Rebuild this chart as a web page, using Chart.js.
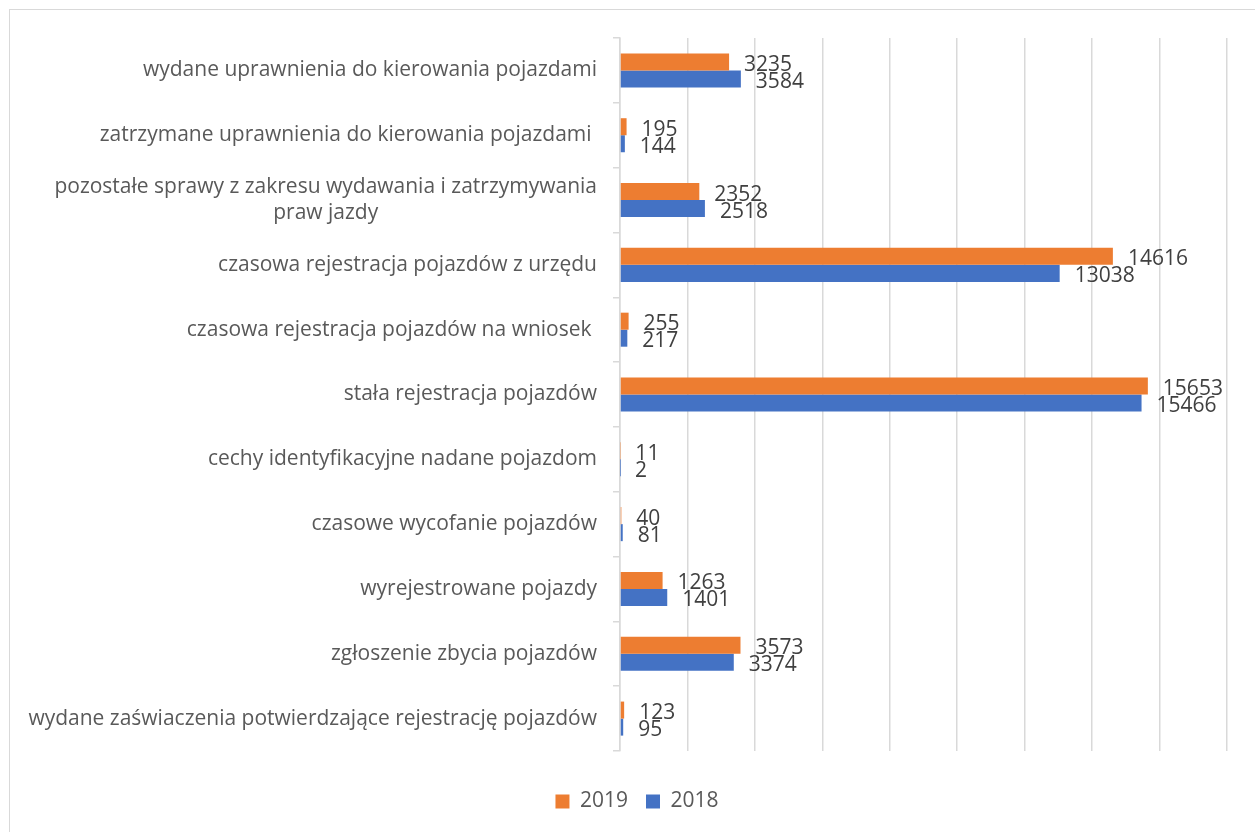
<!DOCTYPE html>
<html>
<head>
<meta charset="utf-8">
<script src="https://cdn.jsdelivr.net/npm/chart.js@4.4.1/dist/chart.umd.min.js"></script>
<style>
  html, body { margin: 0; padding: 0; background: #fff; overflow: hidden; width: 1255px; height: 832px; }
  #frame { position: absolute; left: 9px; top: 9px; width: 1400px; height: 1000px; border: 1.5px solid #d9d9d9; box-sizing: border-box; }
  #wrap { position: absolute; left: 0; top: 0; width: 1255px; height: 832px; }
</style>
</head>
<body>
<div id="frame"></div>
<div id="wrap"><canvas id="c" width="1255" height="832"></canvas></div>
<script>
const categories = [
  ["wydane uprawnienia do kierowania pojazdami"],
  ["zatrzymane uprawnienia do kierowania pojazdami "],
  ["pozostałe sprawy z zakresu wydawania i zatrzymywania", "praw jazdy"],
  ["czasowa rejestracja pojazdów z urzędu"],
  ["czasowa rejestracja pojazdów na wniosek "],
  ["stała rejestracja pojazdów"],
  ["cechy identyfikacyjne nadane pojazdom"],
  ["czasowe wycofanie pojazdów"],
  ["wyrejestrowane pojazdy"],
  ["zgłoszenie zbycia pojazdów"],
  ["wydane zaświaczenia potwierdzające rejestrację pojazdów"]
];
const values2019 = [3235, 195, 2352, 14616, 255, 15653, 11, 40, 1263, 3573, 123];
const values2018 = [3584, 144, 2518, 13038, 217, 15466, 2, 81, 1401, 3374, 95];
const seriesNames = ["2019", "2018"];
const xMin = 0, xMax = 18000, xStep = 2000;

const FONT = "'Open Sans', 'DejaVu Sans', sans-serif";
const FS = 21;

const yLabelsPlugin = {
  id: 'yLabels',
  afterDraw(chart) {
    const ctx = chart.ctx;
    const y = chart.scales.y;
    const rightX = 597;
    ctx.save();
    ctx.font = FS + "px " + FONT;
    ctx.fillStyle = "#595959";
    ctx.textBaseline = "middle";
    const lh = 26;
    categories.forEach((lines, i) => {
      const cy = y.getPixelForTick(i);
      const widths = lines.map(l => ctx.measureText(l.trimEnd()).width + (l.endsWith(" ") ? ctx.measureText(" ").width : 0));
      const maxW = Math.max(...widths);
      const startY = cy - (lines.length - 1) * lh / 2;
      lines.forEach((l, j) => {
        const w = widths[j];
        const x = rightX - maxW + (maxW - w) / 2;
        ctx.textAlign = "left";
        ctx.fillText(l, x, startY + j * lh);
      });
    });
    ctx.restore();
  }
};

const valueLabelsPlugin = {
  id: 'valueLabels',
  afterDatasetsDraw(chart) {
    const ctx = chart.ctx;
    ctx.save();
    ctx.font = FS + "px " + FONT;
    ctx.fillStyle = "#404040";
    ctx.textAlign = "left";
    ctx.textBaseline = "middle";
    chart.data.datasets.forEach((ds, di) => {
      const meta = chart.getDatasetMeta(di);
      meta.data.forEach((el, i) => {
        ctx.fillText(String(ds.data[i]), el.x + 15, el.y + 3);
      });
    });
    ctx.restore();
  }
};

new Chart(document.getElementById('c'), {
  type: 'bar',
  data: {
    labels: categories,
    datasets: [
      { label: seriesNames[0], data: values2019, backgroundColor: '#ED7D31', categoryPercentage: 0.525, barPercentage: 1 },
      { label: seriesNames[1], data: values2018, backgroundColor: '#4472C4', categoryPercentage: 0.525, barPercentage: 1 }
    ]
  },
  options: {
    indexAxis: 'y',
    responsive: false,
    animation: false,
    layout: { padding: { top: 38, right: 28, bottom: 10, left: 47 } },
    plugins: {
      tooltip: { enabled: false },
      legend: {
        position: 'bottom',
        labels: {
          font: { family: FONT, size: FS },
          color: '#595959',
          boxWidth: 14,
          boxHeight: 14,
          padding: 18
        }
      }
    },
    scales: {
      x: {
        min: xMin, max: xMax,
        ticks: { display: false, stepSize: xStep },
        grid: { color: '#d9d9d9', lineWidth: 1.5, drawTicks: false },
        border: { display: false },
        afterFit(scale) { scale.height = 22; }
      },
      y: {
        ticks: { display: false },
        grid: { drawOnChartArea: false, drawTicks: true, tickLength: 7, color: '#d9d9d9', lineWidth: 1.5, offset: true },
        border: { display: true, color: '#d9d9d9', width: 1.5 },
        afterFit(scale) { scale.width = 573; }
      }
    }
  },
  plugins: [yLabelsPlugin, valueLabelsPlugin]
});
</script>
</body>
</html>
